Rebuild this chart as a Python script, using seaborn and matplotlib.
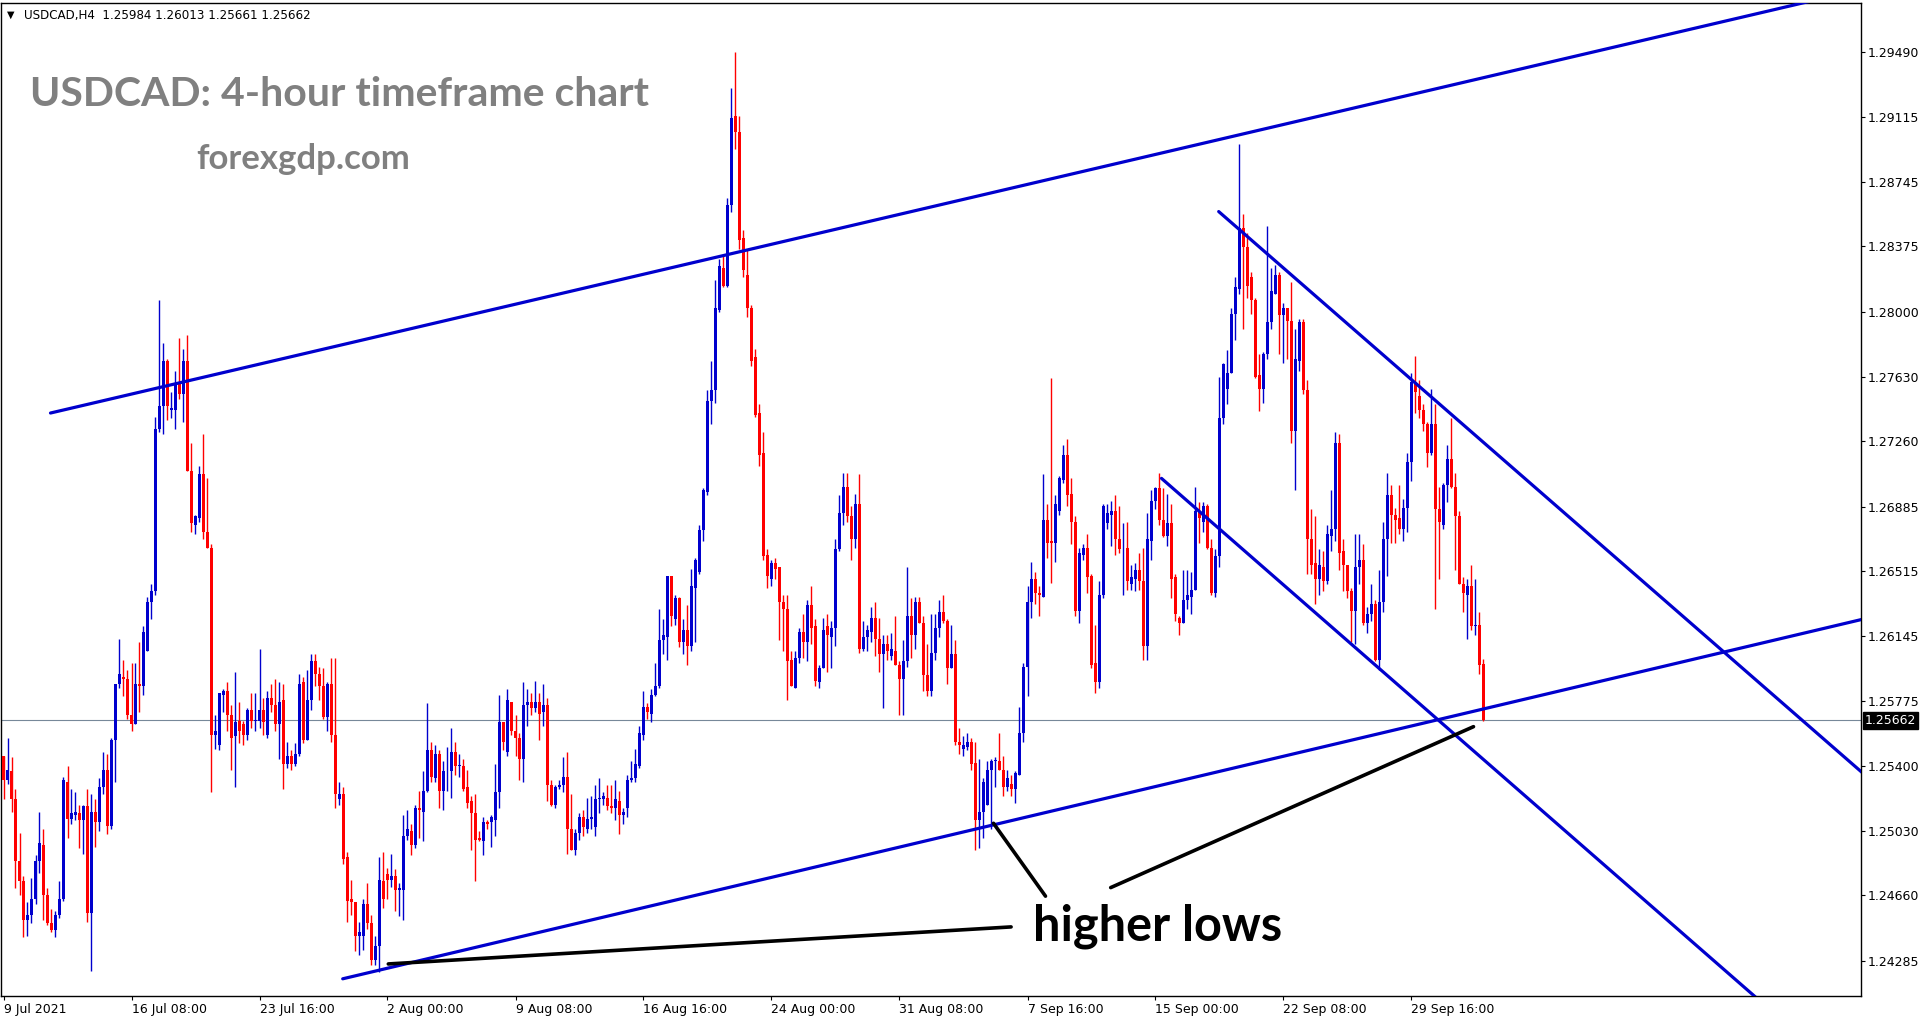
import numpy as np
import pandas as pd
import matplotlib
import matplotlib.pyplot as plt
import seaborn as sns

matplotlib.use("Agg")  # no display

# H4 bars of USDCAD, first bar = 9 Jul 2021 00:00
opens = [
    1.2546, 1.2532, 1.2537, 1.2521, 1.2486, 1.2474, 1.2452, 1.2455, 1.2464, 1.2486,
    1.2495, 1.2466, 1.2450, 1.2446, 1.2455, 1.2464, 1.2531, 1.2510, 1.2512, 1.2513,
    1.2509, 1.2517, 1.2456, 1.2514, 1.2508, 1.2528, 1.2538, 1.2506, 1.2555, 1.2587,
    1.2591, 1.2590, 1.2569, 1.2564, 1.2587, 1.2586, 1.2606, 1.2634, 1.2640, 1.2733,
    1.2746, 1.2772, 1.2744, 1.2744, 1.2760, 1.2753, 1.2772, 1.2709, 1.2678, 1.2682,
    1.2707, 1.2674, 1.2665, 1.2558, 1.2552, 1.2581, 1.2583, 1.2569, 1.2557, 1.2566,
    1.2564, 1.2558, 1.2572, 1.2566, 1.2566, 1.2572, 1.2558, 1.2579, 1.2575, 1.2564,
    1.2578, 1.2541, 1.2546, 1.2541, 1.2547, 1.2588, 1.2555, 1.2578, 1.2600, 1.2593,
    1.2586, 1.2568, 1.2587, 1.2558, 1.2521, 1.2524, 1.2488, 1.2464, 1.2462, 1.2443,
    1.2443, 1.2461, 1.2450, 1.2429, 1.2437, 1.2474, 1.2478, 1.2475, 1.2477, 1.2469,
    1.2469, 1.2500, 1.2503, 1.2495, 1.2516, 1.2514, 1.2526, 1.2549, 1.2533, 1.2547,
    1.2526, 1.2537, 1.2537, 1.2548, 1.2540, 1.2540, 1.2528, 1.2520, 1.2513, 1.2499,
    1.2497, 1.2508, 1.2508, 1.2509, 1.2525, 1.2565, 1.2548, 1.2577, 1.2560, 1.2556,
    1.2544, 1.2575, 1.2577, 1.2573, 1.2577, 1.2571, 1.2575, 1.2529, 1.2518, 1.2528,
    1.2529, 1.2534, 1.2504, 1.2492, 1.2502, 1.2511, 1.2504, 1.2510, 1.2505, 1.2521,
    1.2521, 1.2522, 1.2517, 1.2516, 1.2520, 1.2512, 1.2516, 1.2532, 1.2533, 1.2540,
    1.2558, 1.2574, 1.2570, 1.2581, 1.2586, 1.2612, 1.2614, 1.2649, 1.2624, 1.2636,
    1.2611, 1.2618, 1.2609, 1.2642, 1.2651, 1.2675, 1.2697, 1.2749, 1.2755, 1.2801,
    1.2825, 1.2815, 1.2861, 1.2912, 1.2903, 1.2842, 1.2821, 1.2802, 1.2774, 1.2742,
    1.2719, 1.2661, 1.2647, 1.2656, 1.2654, 1.2634, 1.2630, 1.2601, 1.2585, 1.2602,
    1.2617, 1.2611, 1.2632, 1.2620, 1.2588, 1.2596, 1.2620, 1.2614, 1.2619, 1.2664,
    1.2685, 1.2700, 1.2683, 1.2670, 1.2690, 1.2607, 1.2614, 1.2617, 1.2625, 1.2613,
    1.2604, 1.2610, 1.2603, 1.2606, 1.2598, 1.2590, 1.2600, 1.2626, 1.2615, 1.2634,
    1.2622, 1.2592, 1.2583, 1.2605, 1.2619, 1.2628, 1.2623, 1.2596, 1.2604, 1.2554,
    1.2550, 1.2551, 1.2554, 1.2542, 1.2509, 1.2514, 1.2518, 1.2538, 1.2543, 1.2543,
    1.2538, 1.2528, 1.2530, 1.2527, 1.2535, 1.2559, 1.2597, 1.2634, 1.2647, 1.2639,
    1.2637, 1.2681, 1.2669, 1.2668, 1.2686, 1.2704, 1.2718, 1.2696, 1.2680, 1.2629,
    1.2661, 1.2665, 1.2649, 1.2599, 1.2588, 1.2638, 1.2679, 1.2684, 1.2686, 1.2670,
    1.2664, 1.2665, 1.2644, 1.2647, 1.2652, 1.2646, 1.2609, 1.2669, 1.2692, 1.2699,
    1.2681, 1.2672, 1.2679, 1.2648, 1.2625, 1.2622, 1.2635, 1.2637, 1.2641, 1.2686,
    1.2680, 1.2689, 1.2665, 1.2639, 1.2660, 1.2739, 1.2756, 1.2765, 1.2799, 1.2813,
    1.2848, 1.2837, 1.2820, 1.2807, 1.2764, 1.2756, 1.2776, 1.2794, 1.2810, 1.2821,
    1.2798, 1.2802, 1.2795, 1.2732, 1.2772, 1.2794, 1.2755, 1.2670, 1.2656, 1.2647,
    1.2654, 1.2646, 1.2672, 1.2676, 1.2725, 1.2663, 1.2655, 1.2640, 1.2629, 1.2654,
    1.2658, 1.2622, 1.2627, 1.2633, 1.2601, 1.2634, 1.2670, 1.2695, 1.2684, 1.2682,
    1.2676, 1.2688, 1.2714, 1.2760, 1.2752, 1.2744, 1.2736, 1.2719, 1.2736, 1.2687,
    1.2678, 1.2701, 1.2716, 1.2700, 1.2683, 1.2644, 1.2638, 1.2643, 1.2620, 1.2621,
    1.25984,
]
highs = [
    1.2546, 1.2556, 1.2545, 1.2527, 1.2502, 1.2477, 1.2462, 1.2476, 1.2489, 1.2514,
    1.2504, 1.2470, 1.2458, 1.2457, 1.2474, 1.2534, 1.2540, 1.2527, 1.2525, 1.2518,
    1.2518, 1.2527, 1.2524, 1.2521, 1.2533, 1.2548, 1.2547, 1.2556, 1.2587, 1.2613,
    1.2601, 1.2595, 1.2599, 1.2599, 1.2611, 1.2620, 1.2637, 1.2644, 1.2740, 1.2807,
    1.2782, 1.2773, 1.2754, 1.2766, 1.2785, 1.2779, 1.2787, 1.2725, 1.2684, 1.2712,
    1.2730, 1.2705, 1.2667, 1.2569, 1.2582, 1.2584, 1.2588, 1.2575, 1.2594, 1.2577,
    1.2566, 1.2573, 1.2582, 1.2582, 1.2607, 1.2579, 1.2583, 1.2587, 1.2590, 1.2588,
    1.2587, 1.2554, 1.2549, 1.2553, 1.2593, 1.2591, 1.2595, 1.2604, 1.2604, 1.2597,
    1.2596, 1.2588, 1.2602, 1.2602, 1.2531, 1.2528, 1.2491, 1.2475, 1.2462, 1.2451,
    1.2464, 1.2473, 1.2455, 1.2443, 1.2488, 1.2491, 1.2482, 1.2490, 1.2481, 1.2473,
    1.2512, 1.2515, 1.2507, 1.2518, 1.2526, 1.2537, 1.2576, 1.2554, 1.2552, 1.2549,
    1.2543, 1.2551, 1.2562, 1.2554, 1.2547, 1.2544, 1.2538, 1.2523, 1.2524, 1.2503,
    1.2511, 1.2509, 1.2512, 1.2541, 1.2581, 1.2565, 1.2584, 1.2577, 1.2569, 1.2559,
    1.2588, 1.2584, 1.2582, 1.2589, 1.2582, 1.2587, 1.2579, 1.2532, 1.2529, 1.2532,
    1.2545, 1.2548, 1.2524, 1.2504, 1.2513, 1.2515, 1.2522, 1.2523, 1.2529, 1.2533,
    1.2525, 1.2529, 1.2529, 1.2532, 1.2526, 1.2516, 1.2535, 1.2543, 1.2550, 1.2563,
    1.2583, 1.2576, 1.2584, 1.2599, 1.2630, 1.2624, 1.2649, 1.2649, 1.2638, 1.2637,
    1.2624, 1.2632, 1.2653, 1.2659, 1.2678, 1.2699, 1.2755, 1.2772, 1.2818, 1.2830,
    1.2832, 1.2865, 1.2928, 1.2949, 1.2912, 1.2847, 1.2836, 1.2804, 1.2779, 1.2747,
    1.2731, 1.2664, 1.2658, 1.2659, 1.2654, 1.2638, 1.2638, 1.2606, 1.2606, 1.2619,
    1.2627, 1.2635, 1.2643, 1.2624, 1.2598, 1.2625, 1.2627, 1.2623, 1.2670, 1.2695,
    1.2708, 1.2708, 1.2689, 1.2696, 1.2707, 1.2623, 1.2621, 1.2631, 1.2634, 1.2625,
    1.2615, 1.2615, 1.2616, 1.2626, 1.2600, 1.2612, 1.2654, 1.2636, 1.2637, 1.2637,
    1.2626, 1.2610, 1.2627, 1.2627, 1.2635, 1.2638, 1.2624, 1.2621, 1.2612, 1.2562,
    1.2557, 1.2559, 1.2556, 1.2554, 1.2544, 1.2533, 1.2543, 1.2544, 1.2545, 1.2559,
    1.2546, 1.2538, 1.2535, 1.2537, 1.2574, 1.2599, 1.2643, 1.2657, 1.2651, 1.2643,
    1.2707, 1.2690, 1.2762, 1.2695, 1.2706, 1.2724, 1.2727, 1.2705, 1.2683, 1.2665,
    1.2667, 1.2673, 1.2650, 1.2621, 1.2646, 1.2690, 1.2690, 1.2692, 1.2695, 1.2689,
    1.2679, 1.2680, 1.2655, 1.2656, 1.2662, 1.2665, 1.2685, 1.2698, 1.2700, 1.2708,
    1.2699, 1.2696, 1.2690, 1.2650, 1.2626, 1.2652, 1.2652, 1.2651, 1.2700, 1.2691,
    1.2691, 1.2690, 1.2670, 1.2664, 1.2763, 1.2771, 1.2778, 1.2802, 1.2820, 1.2896,
    1.2856, 1.2845, 1.2823, 1.2808, 1.2776, 1.2777, 1.2849, 1.2825, 1.2827, 1.2823,
    1.2805, 1.2802, 1.2817, 1.2790, 1.2796, 1.2796, 1.2761, 1.2687, 1.2683, 1.2664,
    1.2663, 1.2678, 1.2698, 1.2731, 1.2730, 1.2670, 1.2655, 1.2642, 1.2673, 1.2673,
    1.2667, 1.2631, 1.2644, 1.2635, 1.2652, 1.2680, 1.2708, 1.2701, 1.2688, 1.2701,
    1.2693, 1.2719, 1.2765, 1.2775, 1.2761, 1.2747, 1.2737, 1.2756, 1.2747, 1.2700,
    1.2702, 1.2724, 1.2739, 1.2708, 1.2686, 1.2648, 1.2647, 1.2655, 1.2647, 1.2628,
    1.26013,
]
lows = [
    1.2521, 1.2530, 1.2514, 1.2470, 1.2466, 1.2442, 1.2443, 1.2450, 1.2461, 1.2479,
    1.2452, 1.2449, 1.2445, 1.2442, 1.2453, 1.2463, 1.2499, 1.2507, 1.2509, 1.2493,
    1.2490, 1.2451, 1.2423, 1.2494, 1.2503, 1.2524, 1.2501, 1.2504, 1.2531, 1.2585,
    1.2580, 1.2567, 1.2560, 1.2564, 1.2571, 1.2581, 1.2606, 1.2624, 1.2638, 1.2731,
    1.2730, 1.2738, 1.2739, 1.2733, 1.2750, 1.2737, 1.2709, 1.2674, 1.2673, 1.2680,
    1.2670, 1.2665, 1.2525, 1.2550, 1.2549, 1.2571, 1.2560, 1.2538, 1.2528, 1.2553,
    1.2552, 1.2555, 1.2562, 1.2560, 1.2562, 1.2558, 1.2556, 1.2571, 1.2560, 1.2544,
    1.2527, 1.2539, 1.2538, 1.2540, 1.2546, 1.2553, 1.2555, 1.2572, 1.2586, 1.2578,
    1.2567, 1.2560, 1.2554, 1.2516, 1.2518, 1.2484, 1.2451, 1.2455, 1.2434, 1.2432,
    1.2435, 1.2447, 1.2426, 1.2426, 1.2422, 1.2459, 1.2464, 1.2471, 1.2457, 1.2454,
    1.2452, 1.2498, 1.2489, 1.2493, 1.2499, 1.2497, 1.2525, 1.2531, 1.2531, 1.2516,
    1.2515, 1.2526, 1.2522, 1.2535, 1.2534, 1.2526, 1.2516, 1.2492, 1.2474, 1.2497,
    1.2489, 1.2504, 1.2494, 1.2500, 1.2516, 1.2549, 1.2546, 1.2558, 1.2546, 1.2532,
    1.2531, 1.2563, 1.2569, 1.2571, 1.2555, 1.2563, 1.2520, 1.2517, 1.2516, 1.2527,
    1.2525, 1.2490, 1.2492, 1.2489, 1.2498, 1.2500, 1.2502, 1.2504, 1.2500, 1.2513,
    1.2518, 1.2515, 1.2513, 1.2509, 1.2501, 1.2507, 1.2511, 1.2531, 1.2531, 1.2539,
    1.2555, 1.2567, 1.2565, 1.2580, 1.2585, 1.2604, 1.2601, 1.2620, 1.2621, 1.2608,
    1.2604, 1.2598, 1.2606, 1.2611, 1.2650, 1.2669, 1.2695, 1.2736, 1.2748, 1.2800,
    1.2814, 1.2814, 1.2857, 1.2893, 1.2836, 1.2820, 1.2797, 1.2769, 1.2740, 1.2712,
    1.2658, 1.2642, 1.2643, 1.2647, 1.2612, 1.2606, 1.2578, 1.2586, 1.2585, 1.2599,
    1.2602, 1.2600, 1.2610, 1.2586, 1.2585, 1.2596, 1.2594, 1.2596, 1.2609, 1.2663,
    1.2678, 1.2680, 1.2658, 1.2665, 1.2605, 1.2606, 1.2606, 1.2611, 1.2603, 1.2594,
    1.2573, 1.2601, 1.2601, 1.2598, 1.2569, 1.2569, 1.2597, 1.2602, 1.2607, 1.2622,
    1.2583, 1.2580, 1.2580, 1.2601, 1.2614, 1.2622, 1.2587, 1.2596, 1.2552, 1.2547,
    1.2546, 1.2549, 1.2538, 1.2492, 1.2493, 1.2499, 1.2518, 1.2504, 1.2528, 1.2538,
    1.2523, 1.2526, 1.2523, 1.2519, 1.2535, 1.2554, 1.2580, 1.2625, 1.2633, 1.2626,
    1.2637, 1.2659, 1.2645, 1.2657, 1.2684, 1.2702, 1.2689, 1.2667, 1.2626, 1.2622,
    1.2658, 1.2639, 1.2596, 1.2582, 1.2585, 1.2636, 1.2676, 1.2666, 1.2661, 1.2662,
    1.2638, 1.2641, 1.2641, 1.2640, 1.2641, 1.2601, 1.2601, 1.2658, 1.2687, 1.2678,
    1.2671, 1.2666, 1.2636, 1.2623, 1.2615, 1.2622, 1.2630, 1.2627, 1.2641, 1.2668,
    1.2674, 1.2664, 1.2638, 1.2637, 1.2654, 1.2736, 1.2747, 1.2765, 1.2784, 1.2810,
    1.2790, 1.2808, 1.2799, 1.2762, 1.2743, 1.2748, 1.2773, 1.2790, 1.2810, 1.2776,
    1.2771, 1.2773, 1.2725, 1.2698, 1.2766, 1.2753, 1.2650, 1.2650, 1.2633, 1.2638,
    1.2640, 1.2644, 1.2663, 1.2669, 1.2652, 1.2640, 1.2636, 1.2611, 1.2610, 1.2644,
    1.2621, 1.2616, 1.2623, 1.2600, 1.2595, 1.2628, 1.2649, 1.2668, 1.2668, 1.2673,
    1.2669, 1.2674, 1.2703, 1.2742, 1.2739, 1.2732, 1.2711, 1.2718, 1.2630, 1.2647,
    1.2676, 1.2691, 1.2699, 1.2652, 1.2644, 1.2628, 1.2613, 1.2618, 1.2615, 1.2593,
    1.25661,
]
closes = [
    1.2532, 1.2538, 1.2521, 1.2486, 1.2474, 1.2452, 1.2455, 1.2464, 1.2486, 1.2496,
    1.2466, 1.2450, 1.2446, 1.2455, 1.2464, 1.2532, 1.2510, 1.2513, 1.2514, 1.2509,
    1.2517, 1.2456, 1.2514, 1.2508, 1.2528, 1.2538, 1.2506, 1.2555, 1.2587, 1.2593,
    1.2590, 1.2569, 1.2564, 1.2587, 1.2586, 1.2617, 1.2634, 1.2640, 1.2733, 1.2746,
    1.2772, 1.2746, 1.2745, 1.2759, 1.2753, 1.2772, 1.2709, 1.2679, 1.2683, 1.2707,
    1.2674, 1.2665, 1.2558, 1.2560, 1.2582, 1.2583, 1.2569, 1.2556, 1.2565, 1.2560,
    1.2558, 1.2572, 1.2566, 1.2566, 1.2572, 1.2565, 1.2579, 1.2575, 1.2564, 1.2577,
    1.2541, 1.2546, 1.2541, 1.2547, 1.2587, 1.2555, 1.2578, 1.2600, 1.2593, 1.2586,
    1.2568, 1.2587, 1.2558, 1.2524, 1.2524, 1.2487, 1.2463, 1.2462, 1.2443, 1.2445,
    1.2461, 1.2450, 1.2429, 1.2437, 1.2475, 1.2464, 1.2475, 1.2477, 1.2469, 1.2470,
    1.2500, 1.2504, 1.2495, 1.2516, 1.2515, 1.2526, 1.2549, 1.2534, 1.2547, 1.2526,
    1.2537, 1.2537, 1.2548, 1.2540, 1.2540, 1.2527, 1.2519, 1.2513, 1.2498, 1.2498,
    1.2508, 1.2507, 1.2511, 1.2525, 1.2565, 1.2554, 1.2578, 1.2560, 1.2556, 1.2544,
    1.2575, 1.2577, 1.2573, 1.2577, 1.2570, 1.2575, 1.2529, 1.2518, 1.2528, 1.2529,
    1.2534, 1.2504, 1.2492, 1.2502, 1.2511, 1.2505, 1.2510, 1.2511, 1.2521, 1.2522,
    1.2523, 1.2517, 1.2516, 1.2521, 1.2512, 1.2514, 1.2532, 1.2533, 1.2541, 1.2559,
    1.2574, 1.2571, 1.2581, 1.2586, 1.2612, 1.2615, 1.2649, 1.2626, 1.2636, 1.2611,
    1.2618, 1.2609, 1.2643, 1.2658, 1.2675, 1.2698, 1.2749, 1.2755, 1.2802, 1.2826,
    1.2815, 1.2861, 1.2911, 1.2903, 1.2841, 1.2824, 1.2802, 1.2772, 1.2741, 1.2718,
    1.2660, 1.2649, 1.2656, 1.2653, 1.2634, 1.2630, 1.2600, 1.2586, 1.2602, 1.2617,
    1.2611, 1.2632, 1.2619, 1.2589, 1.2596, 1.2618, 1.2615, 1.2619, 1.2664, 1.2685,
    1.2700, 1.2683, 1.2670, 1.2690, 1.2607, 1.2614, 1.2618, 1.2625, 1.2613, 1.2604,
    1.2610, 1.2606, 1.2607, 1.2598, 1.2590, 1.2600, 1.2626, 1.2615, 1.2634, 1.2622,
    1.2592, 1.2583, 1.2605, 1.2619, 1.2628, 1.2623, 1.2596, 1.2604, 1.2554, 1.2552,
    1.2552, 1.2554, 1.2541, 1.2509, 1.2514, 1.2531, 1.2538, 1.2543, 1.2543, 1.2538,
    1.2528, 1.2533, 1.2527, 1.2536, 1.2559, 1.2597, 1.2634, 1.2647, 1.2639, 1.2638,
    1.2681, 1.2668, 1.2668, 1.2690, 1.2705, 1.2718, 1.2695, 1.2680, 1.2629, 1.2662,
    1.2665, 1.2648, 1.2598, 1.2588, 1.2638, 1.2689, 1.2685, 1.2686, 1.2670, 1.2664,
    1.2664, 1.2646, 1.2648, 1.2652, 1.2646, 1.2609, 1.2670, 1.2692, 1.2699, 1.2681,
    1.2672, 1.2679, 1.2647, 1.2627, 1.2622, 1.2635, 1.2638, 1.2641, 1.2686, 1.2682,
    1.2689, 1.2665, 1.2639, 1.2660, 1.2739, 1.2770, 1.2765, 1.2799, 1.2814, 1.2848,
    1.2837, 1.2815, 1.2807, 1.2763, 1.2756, 1.2776, 1.2794, 1.2812, 1.2821, 1.2798,
    1.2802, 1.2795, 1.2732, 1.2773, 1.2794, 1.2755, 1.2670, 1.2655, 1.2647, 1.2655,
    1.2646, 1.2673, 1.2676, 1.2725, 1.2662, 1.2655, 1.2640, 1.2629, 1.2654, 1.2658,
    1.2622, 1.2627, 1.2633, 1.2601, 1.2634, 1.2670, 1.2695, 1.2684, 1.2681, 1.2676,
    1.2688, 1.2714, 1.2760, 1.2754, 1.2744, 1.2736, 1.2719, 1.2736, 1.2687, 1.2680,
    1.2701, 1.2716, 1.2700, 1.2683, 1.2644, 1.2639, 1.2643, 1.2620, 1.2621, 1.2598,
    1.25662,
]

date_labels = ["9 Jul 2021", "16 Jul 08:00", "23 Jul 16:00", "2 Aug 00:00",
               "9 Aug 08:00", "16 Aug 16:00", "24 Aug 00:00", "31 Aug 08:00",
               "7 Sep 16:00", "15 Sep 00:00", "22 Sep 08:00", "29 Sep 16:00"]
bars_per_label = 32
price_ticks = [1.29490, 1.29115, 1.28745, 1.28375, 1.28000, 1.27630, 1.27260,
               1.26885, 1.26515, 1.26145, 1.25775, 1.25400, 1.25030, 1.24660,
               1.24285]
last_price = 1.25662

# drawn objects: (bar, price) end points
blue_lines = {
    "upper channel": [(11.75, 1.27421), (470, 1.29876)],
    "lower channel": [(84.8, 1.24183), (470, 1.26269)],
    "falling top": [(303.8, 1.28574), (470, 1.25257)],
    "falling bottom": [(289.5, 1.27047), (470, 1.23439)],
}
black_lines = {
    "arrow 1": [(96.2, 1.24268), (251.9, 1.24480)],
    "arrow 2": [(247.5, 1.25073), (260.5, 1.24656)],
    "arrow 3": [(276.8, 1.24705), (367.5, 1.25626)],
}

df = pd.DataFrame({"open": opens, "high": highs, "low": lows, "close": closes})
df["bar"] = np.arange(len(df))

BULL = "#0000CD"
BEAR = "#FF0000"

sns.set_style("white")
plt.rcParams["font.family"] = ["DejaVu Sans"]

W, H = 1933, 1023
fig = plt.figure(figsize=(W / 100, H / 100), dpi=100)
ax = fig.add_axes([1 / W, 27 / H, 1860 / W, 993 / H])
ax.set_xlim(-0.625, 464.375)
ax.set_ylim(1.240846, 1.297676)

# price line
ax.axhline(last_price, color="#778899", lw=0.8, zorder=1)

# candles
colors = np.where(df["close"] >= df["open"], BULL, BEAR)
ax.vlines(df["bar"], df["low"], df["high"], colors=colors, lw=1.0, zorder=3)
body = (df["close"] - df["open"]).abs().clip(lower=0.00005)
ax.bar(df["bar"], body, bottom=df[["open", "close"]].min(axis=1), width=0.75,
       color=colors, linewidth=0, zorder=4)

# trend lines
def lines_frame(d):
    rows = []
    for name, pts in d.items():
        for b, p in pts:
            rows.append({"line": name, "bar": b, "price": p})
    return pd.DataFrame(rows)

sns.lineplot(data=lines_frame(blue_lines), x="bar", y="price", units="line",
             estimator=None, sort=False, color=BULL, lw=2.3, ax=ax, zorder=5)
sns.lineplot(data=lines_frame(black_lines), x="bar", y="price", units="line",
             estimator=None, sort=False, color="black", lw=2.6, ax=ax, zorder=6)

# axes styling
for s in ax.spines.values():
    s.set_color("black")
    s.set_linewidth(1.0)
ax.set_xlabel("")
ax.set_ylabel("")
ax.yaxis.tick_right()
ax.set_yticks(price_ticks)
ax.set_yticklabels([f"{v:.5f}" for v in price_ticks])
ax.tick_params(axis="y", direction="out", length=3, width=0.8, pad=2,
               labelsize=9, colors="black", right=True, left=False)
ax.set_xticks([i * bars_per_label for i in range(len(date_labels))])
ax.set_xticklabels(date_labels)
ax.tick_params(axis="x", direction="out", length=3, width=0.8, pad=2,
               labelsize=9, colors="black", bottom=True)
for lbl in ax.get_xticklabels():
    lbl.set_horizontalalignment("left")

ax.annotate(f"{last_price:.5f}", xy=(1, last_price), xycoords=("axes fraction", "data"),
            xytext=(3, 0), textcoords="offset points", ha="left", va="center",
            fontsize=9, color="white",
            bbox=dict(boxstyle="square,pad=0.15", fc="black", ec="black"),
            annotation_clip=False)

# texts
fig.text(7 / W, 1 - 15 / H, "\u25bc", fontsize=7, va="center", color="black")
fig.text(24 / W, 1 - 15 / H, "USDCAD,H4  1.25984 1.26013 1.25661 1.25662",
         fontsize=8.6, va="center", color="black")
fig.text(30 / W, 1 - 106 / H, "USDCAD: 4-hour timeframe chart", fontsize=29.5,
         fontweight="bold", color="#808080", family=["Lato", "DejaVu Sans"],
         va="baseline")
fig.text(196 / W, 1 - 169 / H, "forexgdp.com", fontsize=25, fontweight="bold",
         color="#808080", family=["Lato", "DejaVu Sans"], va="baseline")
ax.text(1032 / 1860, (996 - 940.6) / 993, "higher lows",
        transform=ax.transAxes, fontsize=35, fontweight="bold", color="black",
        family=["Lato", "DejaVu Sans"], va="baseline", ha="left", zorder=7)

fig.savefig("out.png", dpi=100)
